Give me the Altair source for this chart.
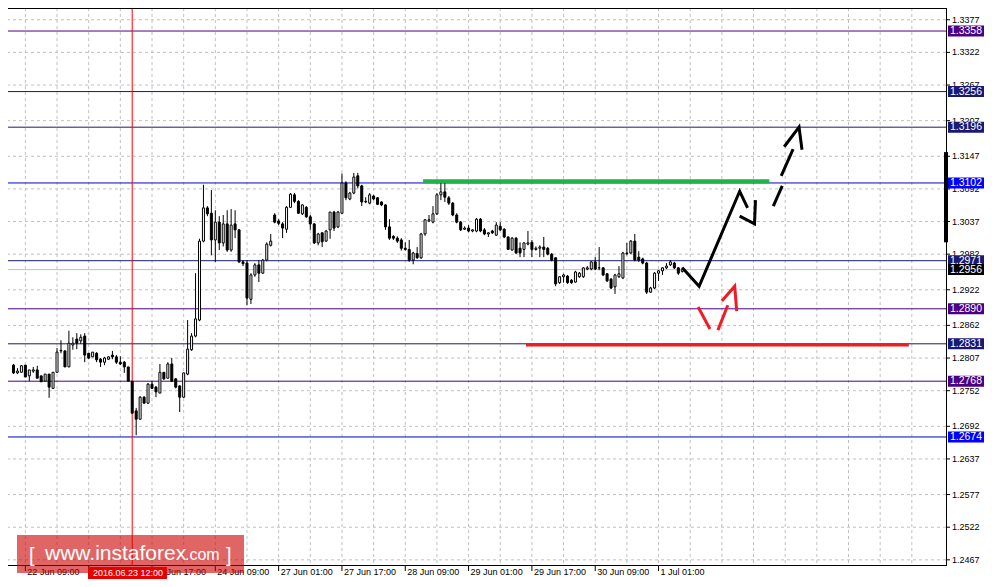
import altair as alt
import pandas as pd

FONT = "Liberation Sans"
W, H = 938, 557

# ---------------- data (hourly GBP/USD candles, index = bar number) ----------------
first_bar = 2
opens = [1.2795,1.2782,1.2783,1.2795,1.2777,1.2785,1.2787,1.2777,1.2768,1.2780,
         1.2756,1.2783,1.2819,1.2819,1.2792,1.2829,1.2839,1.2836,1.2844,1.2815,
         1.2809,1.2815,1.2805,1.2800,1.2805,1.2812,1.2809,1.2800,1.2800,1.2792,
         1.2768,1.2718,1.2704,1.2741,1.2731,1.2763,1.2758,1.2748,1.2783,1.2773,
         1.2797,1.2772,1.2760,1.2741,1.2780,1.2821,1.2844,1.2871,1.3004,1.3060,
         1.3051,1.3006,1.3036,1.3001,1.3033,1.2989,1.3033,1.3023,1.2969,1.2967,
         1.2906,1.2947,1.2964,1.2950,1.2972,1.2997,1.3048,1.3038,1.3033,1.3024,
         1.3061,1.3082,1.3071,1.3050,1.3061,1.3045,1.3033,1.3001,1.3018,1.3004,
         1.3023,1.3053,1.3028,1.3051,1.3102,1.3075,1.3085,1.3114,1.3097,1.3070,
         1.3068,1.3080,1.3077,1.3070,1.3065,1.3028,1.3012,1.3009,1.3006,1.2992,
         1.2990,1.2972,1.2983,1.2976,1.3016,1.3038,1.3036,1.3050,1.3082,1.3087,
         1.3077,1.3068,1.3048,1.3036,1.3024,1.3026,1.3021,1.3021,1.3041,1.3023,
         1.3016,1.3021,1.3014,1.3029,1.3024,1.3011,1.2989,1.3009,1.2992,1.2990,
         1.2999,1.3002,1.2990,1.2992,1.2994,1.2992,1.2982,1.2976,1.2934,1.2944,
         1.2945,1.2938,1.2935,1.2944,1.2944,1.2957,1.2957,1.2969,1.2959,1.2959,
         1.2949,1.2940,1.2927,1.2944,1.2942,1.2984,1.2984,1.3004,1.2977,1.2974,
         1.2967,1.2918,1.2925,1.2950,1.2954,1.2959,1.2964,1.2967,1.2959,1.2953]
highs = [1.2797,1.2790,1.2795,1.2795,1.2787,1.2792,1.2794,1.2777,1.2780,1.2780,
         1.2783,1.2824,1.2837,1.2820,1.2853,1.2842,1.2849,1.2847,1.2849,1.2815,
         1.2817,1.2817,1.2807,1.2809,1.2810,1.2819,1.2812,1.2810,1.2802,1.2792,
         1.2768,1.2723,1.2743,1.2743,1.2765,1.2768,1.2760,1.2797,1.2783,1.2800,
         1.2807,1.2773,1.2761,1.2782,1.2871,1.2849,1.2950,1.3008,1.3099,1.3063,
         1.3090,1.3056,1.3046,1.3048,1.3056,1.3058,1.3056,1.3024,1.2972,1.2972,
         1.2950,1.2967,1.2972,1.2974,1.3002,1.3016,1.3051,1.3041,1.3036,1.3063,
         1.3085,1.3085,1.3073,1.3066,1.3063,1.3048,1.3034,1.3018,1.3019,1.3023,
         1.3053,1.3055,1.3055,1.3118,1.3105,1.3087,1.3119,1.3119,1.3099,1.3078,
         1.3085,1.3082,1.3078,1.3071,1.3066,1.3041,1.3014,1.3012,1.3009,1.3002,
         1.3006,1.2986,1.2994,1.3018,1.3041,1.3048,1.3063,1.3085,1.3102,1.3102,
         1.3080,1.3070,1.3051,1.3038,1.3029,1.3031,1.3024,1.3043,1.3043,1.3026,
         1.3019,1.3023,1.3036,1.3036,1.3026,1.3012,1.3011,1.3011,1.3002,1.3002,
         1.3021,1.3006,1.2995,1.2997,1.3011,1.2994,1.2984,1.2976,1.2945,1.2949,
         1.2947,1.2940,1.2954,1.2952,1.2960,1.2962,1.2970,1.2977,1.2994,1.2960,
         1.2950,1.2942,1.2949,1.2962,1.2986,1.3001,1.3006,1.3016,1.2987,1.2976,
         1.2969,1.2927,1.2952,1.2955,1.2960,1.2967,1.2972,1.2969,1.2960,1.2960]
lows = [1.2780,1.2780,1.2783,1.2775,1.2768,1.2782,1.2773,1.2767,1.2768,1.2740,
        1.2756,1.2783,1.2815,1.2792,1.2792,1.2821,1.2822,1.2831,1.2800,1.2805,
        1.2809,1.2800,1.2792,1.2795,1.2804,1.2805,1.2797,1.2795,1.2782,1.2768,
        1.2714,1.2677,1.2703,1.2730,1.2730,1.2755,1.2741,1.2748,1.2770,1.2773,
        1.2767,1.2756,1.2716,1.2740,1.2778,1.2819,1.2842,1.2869,1.3002,1.3046,
        1.2980,1.2969,1.2989,1.2995,1.2986,1.2986,1.3009,1.2967,1.2962,1.2896,
        1.2898,1.2944,1.2935,1.2949,1.2970,1.2995,1.3034,1.3031,1.3009,1.3018,
        1.3060,1.3068,1.3050,1.3048,1.3043,1.3023,1.2999,1.2997,1.2994,1.3003,
        1.3008,1.3021,1.3026,1.3050,1.3073,1.3073,1.3083,1.3093,1.3063,1.3068,
        1.3066,1.3073,1.3065,1.3063,1.3023,1.3006,1.3006,1.3001,1.2988,1.2988,
        1.2969,1.2965,1.2974,1.2974,1.3013,1.3036,1.3034,1.3048,1.3073,1.3070,
        1.3065,1.3046,1.3034,1.3021,1.3023,1.3019,1.3019,1.3019,1.3019,1.3014,
        1.3011,1.3016,1.3013,1.3021,1.3009,1.2989,1.2988,1.2982,1.2977,1.2977,
        1.2997,1.2977,1.2988,1.2977,1.2977,1.2980,1.2970,1.2928,1.2932,1.2934,
        1.2932,1.2932,1.2934,1.2942,1.2942,1.2955,1.2955,1.2955,1.2955,1.2945,
        1.2935,1.2923,1.2915,1.2942,1.2940,1.2980,1.2982,1.2970,1.2969,1.2965,
        1.2915,1.2917,1.2923,1.2937,1.2947,1.2957,1.2962,1.2957,1.2947,1.2951]
closes = [1.2782,1.2785,1.2794,1.2775,1.2787,1.2787,1.2773,1.2767,1.2780,1.2758,
          1.2783,1.2817,1.2820,1.2792,1.2832,1.2832,1.2832,1.2842,1.2812,1.2807,
          1.2817,1.2804,1.2800,1.2807,1.2809,1.2809,1.2800,1.2797,1.2792,1.2768,
          1.2714,1.2704,1.2741,1.2731,1.2763,1.2756,1.2750,1.2783,1.2772,1.2797,
          1.2768,1.2758,1.2741,1.2782,1.2822,1.2844,1.2873,1.3004,1.3060,1.3050,
          1.3006,1.3036,1.3001,1.3033,1.2989,1.3031,1.3023,1.2969,1.2966,1.2908,
          1.2947,1.2964,1.2950,1.2972,1.2999,1.3004,1.3036,1.3034,1.3026,1.3061,
          1.3083,1.3071,1.3051,1.3065,1.3045,1.3033,1.3001,1.3016,1.3003,1.3021,
          1.3053,1.3026,1.3053,1.3102,1.3077,1.3085,1.3112,1.3097,1.3070,1.3071,
          1.3082,1.3075,1.3066,1.3065,1.3028,1.3009,1.3009,1.3004,1.2992,1.2990,
          1.2972,1.2984,1.2976,1.3016,1.3040,1.3040,1.3050,1.3082,1.3087,1.3078,
          1.3068,1.3048,1.3036,1.3023,1.3026,1.3021,1.3023,1.3041,1.3021,1.3016,
          1.3018,1.3018,1.3031,1.3023,1.3011,1.2990,1.3009,1.2984,1.2984,1.3001,
          1.3001,1.2990,1.2992,1.2994,1.2990,1.2982,1.2972,1.2932,1.2944,1.2947,
          1.2934,1.2934,1.2952,1.2950,1.2959,1.2959,1.2969,1.2957,1.2959,1.2947,
          1.2937,1.2925,1.2947,1.2949,1.2984,1.2983,1.3004,1.2972,1.2972,1.2967,
          1.2918,1.2925,1.2950,1.2954,1.2959,1.2962,1.2969,1.2959,1.2950,1.2956]

# axis ticks
xtick_pos = [5, 21, 37, 53, 69, 85, 101, 117, 133, 149, 165]
xtick_lab = ["22 Jun 09:00", "23 Jun 01:00", "23 Jun 17:00", "24 Jun 09:00",
             "27 Jun 01:00", "27 Jun 17:00", "28 Jun 09:00", "29 Jun 01:00",
             "29 Jun 17:00", "30 Jun 09:00", "1 Jul 01:00"]
xgrid_pos = list(range(5, 237, 8))
ytick_vals = [1.3377, 1.3322, 1.3267, 1.3207, 1.3147, 1.3092, 1.3037, 1.2982,
              1.2922, 1.2862, 1.2807, 1.2752, 1.2692, 1.2637, 1.2577, 1.2522, 1.2467]

# horizontal levels
level_prices = [1.3358, 1.3256, 1.3196, 1.3102, 1.2971, 1.2956, 1.2890, 1.2831, 1.2768, 1.2674]
level_line = ["#4b0082", "#191970", "#191970", "#0000cd", "#191970", "#c0c0c0",
              "#4b0082", "#191970", "#4b0082", "#0000cd"]
level_box = ["#4b0082", "#191970", "#191970", "#0000ff", "#191970", "#000000",
             "#4b0082", "#191970", "#4b0082", "#0000ff"]

marker_bar = 32                      # red vertical line, 2016.06.23 12:00
green_seg = (105.5, 193.0, 1.3105)
red_seg = (131.5, 228.25, 1.2829)
scroll_bar = (1.3154, 1.3002)

# hand-drawn forecast arrows (bar index, price)
arrow_seg = ["b1", "b1", "b1", "b1", "b2", "b2", "b2", "b3", "b3", "b4", "b4",
             "b5", "b5", "b5", "r1", "r1", "r2", "r2", "r3", "r3", "r3"]
arrow_x = [171.0, 175.25, 185.5, 187.5, 185.5, 189.25, 189.5, 194.0, 196.25, 196.0, 199.0,
           196.75, 200.5, 201.25, 175.0, 178.0, 180.0, 182.5, 181.0, 184.25, 184.75]
arrow_p = [1.2959, 1.2928, 1.3088, 1.3060, 1.3046, 1.3033, 1.3073, 1.3063, 1.3097, 1.3114, 1.3159,
           1.3163, 1.3196, 1.3158, 1.2893, 1.2856, 1.2854, 1.2896, 1.2903, 1.2928, 1.2886]

# ---------------- frames ----------------
n = len(opens)
candles = pd.DataFrame({"i": list(range(first_bar, first_bar + n)),
                        "open": opens, "high": highs, "low": lows, "close": closes})
candles["top"] = candles[["open", "close"]].max(axis=1)
candles["bot"] = candles[["open", "close"]].min(axis=1)
candles["fill"] = ["#ffffff" if c >= o else "#000000" for o, c in zip(opens, closes)]

levels = pd.DataFrame({"p": level_prices, "lc": level_line, "bg": level_box,
                       "lab": [f"{p:.4f}" for p in level_prices]})
arrows = pd.DataFrame({"seg": arrow_seg, "i": arrow_x, "p": arrow_p,
                       "k": list(range(len(arrow_x)))})
arrows["col"] = ["#ee1c25" if s.startswith("r") else "#000000" for s in arrow_seg]
xticks = pd.DataFrame({"i": xtick_pos, "lab": xtick_lab})
yticks = pd.DataFrame({"p": ytick_vals, "lab": [f"{v:.4f}" for v in ytick_vals]})

xs = alt.Scale(domain=[1.875, 236.375], nice=False, zero=False)
ys = alt.Scale(domain=[1.24583, 1.33968], nice=False, zero=False)


def X(f):
    return alt.X(f, scale=xs, axis=None)


def Y(f):
    return alt.Y(f, scale=ys, axis=None)


one = pd.DataFrame({"a": [0]})

vgrid = alt.Chart(pd.DataFrame({"i": xgrid_pos})).mark_rule(
    color="#c0c0c0", strokeDash=[3, 3], strokeWidth=1).encode(x=X("i:Q"))

hgrid = alt.Chart(yticks).mark_rule(
    color="#c0c0c0", strokeDash=[3, 3], strokeWidth=1).encode(y=Y("p:Q"))

level_lines = alt.Chart(levels).mark_rule(strokeWidth=1).encode(
    y=Y("p:Q"), color=alt.Color("lc:N", scale=None))

red_v = alt.Chart(pd.DataFrame({"i": [marker_bar]})).mark_rule(
    color="#ff0000", strokeWidth=1).encode(x=X("i:Q"))

wicks = alt.Chart(candles).mark_rule(color="black", strokeWidth=1).encode(
    x=X("i:Q"), y=Y("low:Q"), y2="high:Q")

bodies = alt.Chart(candles).mark_bar(size=2, stroke="black", strokeWidth=1).encode(
    x=X("i:Q"), y=Y("bot:Q"), y2="top:Q", fill=alt.Fill("fill:N", scale=None))

green = alt.Chart(pd.DataFrame({"x1": [green_seg[0]], "x2": [green_seg[1]], "p": [green_seg[2]]})
                  ).mark_rule(color="#22b14c", strokeWidth=4).encode(
    x=X("x1:Q"), x2="x2:Q", y=Y("p:Q"))

redh = alt.Chart(pd.DataFrame({"x1": [red_seg[0]], "x2": [red_seg[1]], "p": [red_seg[2]]})
                 ).mark_rule(color="#ee1c25", strokeWidth=3).encode(
    x=X("x1:Q"), x2="x2:Q", y=Y("p:Q"))

arrow_lines = alt.Chart(arrows).mark_line(strokeWidth=3, strokeJoin="miter").encode(
    x=X("i:Q"), y=Y("p:Q"), detail="seg:N", order="k:Q",
    color=alt.Color("col:N", scale=None))

# ---- axes drawn from the scales ----
x_domain = alt.Chart(one).mark_rule(color="black", strokeWidth=1).encode(
    x=alt.value(0), x2=alt.value(W), y=alt.value(H + 0.5))
x_ticks = alt.Chart(xticks).mark_rule(color="black", strokeWidth=1).encode(
    x=X("i:Q"), y=alt.value(H), y2=alt.value(H + 6))
x_labels = alt.Chart(xticks).mark_text(font=FONT, fontSize=9, color="black", align="left",
                                       baseline="top", dx=2).encode(
    x=X("i:Q"), y=alt.value(H + 3), text="lab:N")

y_domain = alt.Chart(one).mark_rule(color="black", strokeWidth=1).encode(
    x=alt.value(W + 0.5), y=alt.value(0), y2=alt.value(H + 1))
y_ticks = alt.Chart(yticks).mark_rule(color="black", strokeWidth=1).encode(
    x=alt.value(W), x2=alt.value(W + 4), y=Y("p:Q"))
y_labels = alt.Chart(yticks).mark_text(font=FONT, fontSize=9, color="black", align="left",
                                       baseline="middle").encode(
    x=alt.value(W + 6), y=Y("p:Q"), text="lab:N")

scroll = alt.Chart(pd.DataFrame({"p1": [scroll_bar[0]], "p2": [scroll_bar[1]]})).mark_rule(
    color="black", strokeWidth=4).encode(x=alt.value(W), y=Y("p1:Q"), y2="p2:Q")

boxes = alt.Chart(levels).mark_tick(orient="horizontal", size=36, thickness=11, opacity=1).encode(
    x=alt.value(958), y=Y("p:Q"), color=alt.Color("bg:N", scale=None))

box_text = alt.Chart(levels).mark_text(font=FONT, fontSize=10.5, color="white",
                                        align="center", baseline="middle").encode(
    x=alt.value(958), y=Y("p:Q"), text="lab:N")

top_border = alt.Chart(one).mark_rule(color="black", strokeWidth=1).encode(
    x=alt.value(0), x2=alt.value(W), y=alt.value(0.5))

wm_box = alt.Chart(one).mark_rect(color="#cc0000", opacity=0.6).encode(
    x=alt.value(9), x2=alt.value(236), y=alt.value(527), y2=alt.value(565))
wm_t1 = alt.Chart(one).mark_text(text="[", font=FONT, fontSize=20, color="white",
                                 align="left", baseline="alphabetic").encode(
    x=alt.value(21), y=alt.value(554))
wm_t2 = alt.Chart(one).mark_text(text="www.instaforex", font=FONT, fontSize=21, color="white",
                                 align="left", baseline="alphabetic").encode(
    x=alt.value(37), y=alt.value(552))
wm_t3 = alt.Chart(one).mark_text(text=".com", font=FONT, fontSize=16, color="white",
                                 align="left", baseline="alphabetic").encode(
    x=alt.value(177), y=alt.value(552))
wm_t4 = alt.Chart(one).mark_text(text="]", font=FONT, fontSize=20, color="white",
                                 align="left", baseline="alphabetic").encode(
    x=alt.value(218), y=alt.value(554))

date_box = alt.Chart(one).mark_rect(color="#e80000").encode(
    x=alt.value(80), x2=alt.value(159), y=alt.value(559), y2=alt.value(571))
date_text = alt.Chart(one).mark_text(text="2016.06.23 12:00", font=FONT, fontSize=9,
                                     color="white", align="center", baseline="middle").encode(
    x=alt.value(120), y=alt.value(565))

chart = alt.layer(
    vgrid, hgrid, level_lines, red_v, wicks, bodies, green, redh, arrow_lines,
    x_domain, x_ticks, x_labels, y_domain, y_ticks, y_labels,
    scroll, boxes, box_text, top_border, wm_box, wm_t1, wm_t2, wm_t3, wm_t4,
    date_box, date_text
).properties(
    width=W, height=H,
    padding={"left": 0, "top": 0, "right": 38, "bottom": 14},
    autosize=alt.AutoSizeParams(type="none"),
    background="white",
).configure_view(stroke=None)

chart.save("out.html", embed_options={"renderer": "svg", "actions": False})
